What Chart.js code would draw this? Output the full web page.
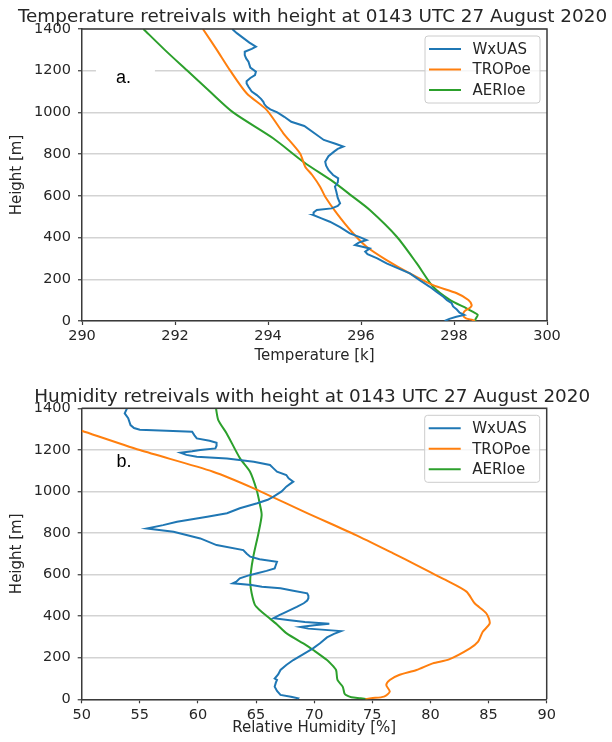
<!DOCTYPE html>
<html>
<head>
<meta charset="utf-8">
<script src="https://cdn.jsdelivr.net/npm/chart.js@4.4.1/dist/chart.umd.min.js"></script>
<style>
  html, body { margin: 0; padding: 0; background: #fff; }
  #wrap { position: relative; width: 612px; height: 742px; overflow: hidden; }
  canvas { position: absolute; left: 0; }
</style>
</head>
<body>
<div id="wrap">
  <canvas id="tempChart" width="612" height="370" style="top:0"></canvas>
  <canvas id="rhChart" width="612" height="372" style="top:370px"></canvas>
</div>
<script>
// series names / colours (matplotlib default cycle)
const seriesNames = ['WxUAS', 'TROPoe', 'AERIoe']
const seriesColors = ['#1f77b4', '#ff7f0e', '#2ca02c']

// (a) temperature profiles, height in m, temperature in K
const tempWxuasHeight = [0, 10, 20, 29, 40, 55, 70, 85, 100, 116, 140, 164, 196, 228, 252, 276, 300, 320, 332, 348,
  364, 376, 388, 400, 420, 450, 476, 492, 508, 520, 532, 540, 552, 564, 590, 620, 644, 664, 684, 700,
  724, 745, 764, 790, 812, 825, 836, 850, 868, 900, 935, 955, 979, 1000, 1015, 1027, 1040, 1051, 1065, 1083,
  1100, 1123, 1139, 1150, 1165, 1179, 1195, 1215, 1243, 1259, 1275, 1291, 1305, 1315, 1335, 1360, 1380, 1400]
const tempWxuasK = [297.80, 297.90, 298.05, 298.22, 298.12, 298.06, 297.98, 297.95, 297.85, 297.77, 297.62, 297.48, 297.26, 297.05, 296.80, 296.55, 296.35, 296.14, 296.09, 296.19,
  295.87, 295.95, 296.12, 296.00, 295.76, 295.55, 295.33, 295.15, 294.97, 294.98, 295.05, 295.37, 295.50, 295.55, 295.50, 295.47, 295.44, 295.50, 295.51, 295.40,
  295.30, 295.25, 295.23, 295.30, 295.42, 295.50, 295.62, 295.45, 295.20, 295.00, 294.78, 294.50, 294.35, 294.20, 294.05, 293.97, 293.92, 293.90, 293.85, 293.76,
  293.65, 293.58, 293.54, 293.54, 293.62, 293.72, 293.74, 293.62, 293.58, 293.53, 293.50, 293.50, 293.65, 293.74, 293.60, 293.45, 293.33, 293.23]

const tempTropoeHeight = [0, 5, 13, 25, 45, 65, 77, 101, 133, 172, 228, 292, 356, 428, 516, 596, 644, 700, 740, 803, 900, 1012, 1092, 1203, 1300, 1400]
const tempTropoeK = [298.45, 298.40, 298.26, 298.20, 298.22, 298.35, 298.38, 298.31, 298.06, 297.55, 297.05, 296.55, 296.12, 295.80, 295.48, 295.23, 295.12, 294.95, 294.80, 294.69, 294.33, 293.97, 293.54, 293.18, 292.90, 292.60]

const tempAerioeHeight = [0, 8, 29, 45, 61, 101, 164, 276, 404, 532, 600, 668, 760, 876, 1000, 1100, 1203, 1300, 1400]
const tempAerioeK = [298.46, 298.46, 298.51, 298.40, 298.27, 297.91, 297.55, 297.20, 296.77, 296.19, 295.80, 295.40, 294.78, 294.11, 293.25, 292.75, 292.25, 291.78, 291.32]

// (b) relative humidity profiles, height in m, RH in %
const rhWxuasHeight = [0, 5, 12, 21, 40, 61, 80, 93, 100, 120, 141, 165, 189, 215, 245, 270, 298, 315, 328, 340,
  348, 356, 364, 372, 380, 390, 405, 421, 445, 462, 475, 486, 498, 510, 522, 534, 542, 550, 558, 566,
  582, 595, 606, 618, 630, 646, 662, 674, 686, 700, 718, 742, 774, 806, 822, 838, 854, 866, 878, 895,
  919, 943, 960, 975, 1000, 1023, 1035, 1047, 1063, 1079, 1095, 1111, 1127, 1143, 1159, 1167, 1176, 1186, 1193, 1199,
  1207, 1220, 1234, 1244, 1255, 1270, 1287, 1292, 1297, 1305, 1319, 1352, 1376, 1400]
const rhWxuasPct = [68.5, 68.6, 68.0, 67.1, 66.8, 66.6, 66.7, 66.8, 66.6, 66.9, 67.1, 67.6, 68.2, 69.0, 69.9, 70.5, 71.1, 71.7, 72.3, 69.5,
  68.8, 70.0, 71.3, 69.2, 67.9, 66.5, 67.0, 67.6, 68.5, 69.1, 69.4, 69.5, 69.5, 69.4, 68.2, 67.1, 65.5, 64.6, 63.0, 63.3,
  63.6, 64.3, 65.1, 65.9, 66.6, 66.7, 66.8, 65.3, 64.5, 64.2, 63.9, 61.6, 60.2, 57.9, 55.6, 57.0, 58.2, 59.5, 60.8, 62.5,
  63.6, 65.1, 66.0, 66.5, 67.2, 67.6, 67.9, 68.2, 67.8, 67.6, 66.8, 66.5, 66.2, 64.8, 62.5, 59.9, 59.0, 58.5, 59.5, 60.2,
  61.5, 61.6, 61.6, 61.0, 59.9, 59.7, 59.5, 57.3, 55.0, 54.5, 54.2, 54.0, 53.7, 53.9]

const rhTropoeHeight = [0, 5, 13, 37, 69, 93, 117, 141, 173, 192, 245, 277, 325, 366, 414, 462, 518, 574, 646, 702, 790, 898, 1015, 1095, 1199, 1292]
const rhTropoePct = [74.4, 74.9, 76.0, 76.5, 76.2, 76.5, 77.3, 78.8, 80.2, 81.6, 83.4, 84.1, 84.5, 85.1, 84.8, 83.8, 83.1, 81.3, 78.8, 76.8, 73.6, 69.3, 64.8, 61.3, 55.0, 50.0]

const rhAerioeHeight = [0, 5, 10, 20, 29, 61, 93, 141, 173, 189, 237, 261, 317, 360, 397, 430, 454, 510, 560, 606, 686, 798, 886, 935, 1007, 1095, 1159, 1279, 1343, 1400]
const rhAerioePct = [74.6, 74.0, 73.2, 72.75, 72.6, 72.45, 72.0, 71.88, 71.4, 71.1, 69.92, 69.3, 67.63, 66.8, 66.0, 65.3, 64.9, 64.62, 64.5, 64.54, 64.76, 65.2, 65.48, 65.34, 65.05, 64.48, 63.62, 62.47, 61.75, 61.55]

const FONT = 'DejaVu Sans'
const INK = '#262626'
const SPINE = '#3a3a3a'
const GRID = '#d3d3d3'

function toPoints(heights, values) {
  return heights.map((h, i) => ({ x: values[i], y: h }))
}

function makeDatasets(wx, tr, ae) {
  return [wx, tr, ae].map((pts, i) => ({
    label: seriesNames[i],
    data: pts,
    borderColor: seriesColors[i],
    backgroundColor: seriesColors[i],
    borderWidth: 2,
    pointRadius: 0,
    fill: false,
    tension: i === 0 ? 0 : 0.25,
  }))
}

// frame, title, legend and panel letter, matplotlib style
const framePlugin = {
  id: 'frame',
  beforeDatasetsDraw(chart, args, opts) {
    const { ctx } = chart
    const px = chart.scales.x.getPixelForValue(opts.note.x)
    const py = chart.scales.y.getPixelForValue(opts.note.y)
    ctx.save()
    ctx.fillStyle = '#fff'
    ctx.fillRect(px - 20, py - 15, 59, 23)
    ctx.fillStyle = '#000'
    ctx.font = '18px "Liberation Sans"'
    ctx.textBaseline = 'alphabetic'
    ctx.fillText(opts.note.text, px, py)
    ctx.restore()
  },
  afterDraw(chart, args, opts) {
    const { ctx, chartArea: a } = chart
    ctx.save()
    // top / right spines
    ctx.strokeStyle = SPINE
    ctx.lineWidth = 1.5
    ctx.beginPath()
    ctx.moveTo(a.left, a.top)
    ctx.lineTo(a.right, a.top)
    ctx.lineTo(a.right, a.bottom)
    ctx.stroke()

    // title
    ctx.fillStyle = INK
    ctx.font = '18.4px "' + FONT + '"'
    ctx.textAlign = 'center'
    ctx.textBaseline = 'alphabetic'
    ctx.fillText(opts.title, (a.left + a.right) / 2 - 2, opts.titleY)

    // legend (upper right)
    const bw = 115, bh = 67
    const bx = a.right - 7 - bw, by = a.top + 7
    ctx.beginPath()
    ctx.roundRect(bx, by, bw, bh, 3)
    ctx.fillStyle = 'rgba(255,255,255,0.8)'
    ctx.fill()
    ctx.strokeStyle = '#cccccc'
    ctx.lineWidth = 1
    ctx.stroke()
    ctx.font = '15px "' + FONT + '"'
    ctx.textAlign = 'left'
    ctx.textBaseline = 'middle'
    chart.data.datasets.forEach((ds, i) => {
      const ry = a.top + 20 + i * 20.5
      ctx.strokeStyle = ds.borderColor
      ctx.lineWidth = 2
      ctx.beginPath()
      ctx.moveTo(bx + 4, ry)
      ctx.lineTo(bx + 36, ry)
      ctx.stroke()
      ctx.fillStyle = INK
      ctx.fillText(ds.label, bx + 47.5, ry + 1)
    })
    ctx.restore()
  },
}

function axes(cfg) {
  return {
    x: {
      type: 'linear',
      min: cfg.xMin,
      max: cfg.xMax,
      afterFit: (s) => { s.height = cfg.xAxisHeight },
      ticks: { stepSize: cfg.xStep, color: INK, font: { family: FONT, size: 14.5 }, padding: 3, maxRotation: 0, callback: (v) => String(v) },
      grid: { drawOnChartArea: false, tickLength: 4, tickColor: SPINE, tickWidth: 1.2 },
      border: { color: SPINE, width: 1.5 },
      title: { display: true, text: cfg.xTitle, color: INK, font: { family: FONT, size: 15 }, padding: { top: 0, bottom: cfg.xTitlePad } },
    },
    y: {
      type: 'linear',
      min: 0,
      max: 1400,
      afterFit: (s) => { s.width = cfg.yAxisWidth },
      ticks: { stepSize: 200, color: INK, font: { family: FONT, size: 14.5 }, padding: 7, callback: (v) => String(v) },
      grid: { color: GRID, lineWidth: 1.5, tickLength: 4, tickColor: SPINE, tickWidth: 1.2 },
      border: { color: SPINE, width: 1.5 },
      title: { display: true, text: 'Height [m]', color: INK, font: { family: FONT, size: 15 }, padding: { top: 7.7, bottom: 0 } },
    },
  }
}

new Chart(document.getElementById('tempChart'), {
  type: 'line',
  data: {
    datasets: makeDatasets(
      toPoints(tempWxuasHeight, tempWxuasK),
      toPoints(tempTropoeHeight, tempTropoeK),
      toPoints(tempAerioeHeight, tempAerioeK)
    ),
  },
  options: {
    responsive: false,
    animation: false,
    layout: { padding: { left: 0, right: 65, top: 29, bottom: 0 } },
    plugins: {
      legend: { display: false },
      tooltip: { enabled: false },
      frame: { title: 'Temperature retreivals with height at 0143 UTC 27 August 2020', titleY: 21.5, note: { x: 290.73, y: 1139, text: 'a.' } },
    },
    scales: axes({ xMin: 290, xMax: 300, xStep: 2, xTitle: 'Temperature [k]', xAxisHeight: 49, xTitlePad: 5, yAxisWidth: 82 }),
  },
  plugins: [framePlugin],
})

new Chart(document.getElementById('rhChart'), {
  type: 'line',
  data: {
    datasets: makeDatasets(
      toPoints(rhWxuasHeight, rhWxuasPct),
      toPoints(rhTropoeHeight, rhTropoePct),
      toPoints(rhAerioeHeight, rhAerioePct)
    ),
  },
  options: {
    responsive: false,
    animation: false,
    layout: { padding: { left: 0, right: 65.3, top: 38.3, bottom: 0 } },
    plugins: {
      legend: { display: false },
      tooltip: { enabled: false },
      frame: { title: 'Humidity retreivals with height at 0143 UTC 27 August 2020', titleY: 31.7, note: { x: 53.0, y: 1116, text: 'b.' } },
    },
    scales: axes({ xMin: 50, xMax: 90, xStep: 5, xTitle: 'Relative Humidity [%]', xAxisHeight: 42.7, xTitlePad: 5, yAxisWidth: 81.7 }),
  },
  plugins: [framePlugin],
})
</script>
</body>
</html>
